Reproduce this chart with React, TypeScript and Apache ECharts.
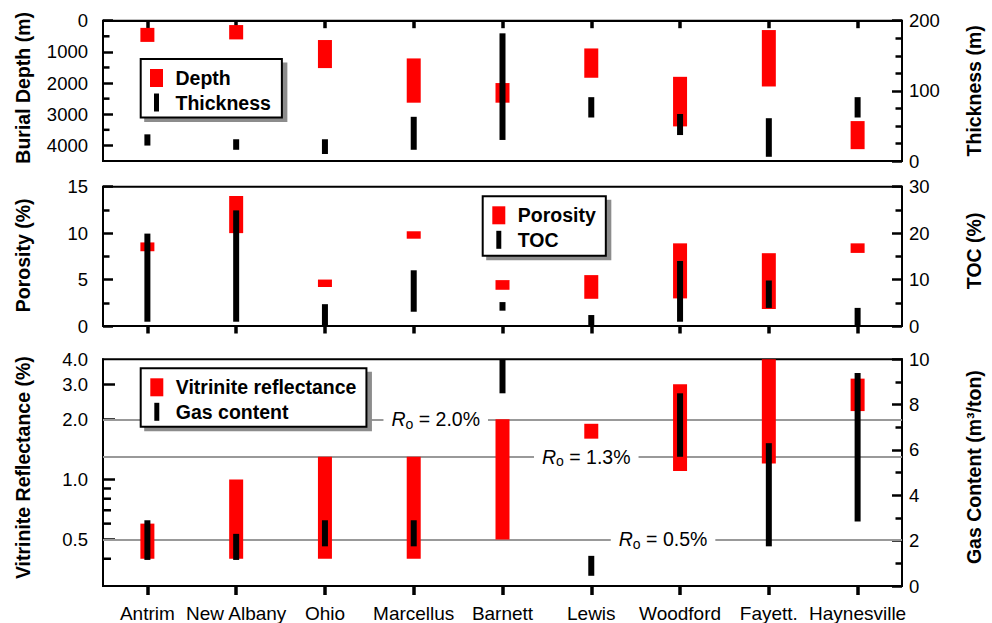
import React, { useEffect, useRef } from 'react';
import * as echarts from 'echarts';

const categories = ['Antrim', 'New Albany', 'Ohio', 'Marcellus', 'Barnett', 'Lewis', 'Woodford', 'Fayett.', 'Haynesville'];

// Burial depth (m), left axis of panel 1
const depthLow = [230, 140, 620, 1210, 2000, 890, 1800, 300, 3220];
const depthHigh = [680, 600, 1520, 2630, 2630, 1830, 3390, 2110, 4120];
// Thickness (m), right axis of panel 1
const thickLow = [22, 16, 10, 16, 30, 62, 37, 6, 62];
const thickHigh = [38, 31, 31, 63, 182, 91, 67, 61, 91];
// Porosity (%), left axis of panel 2
const porosityLow = [8.05, 10, 4.2, 9.4, 3.9, 2.93, 2.97, 1.83, 7.87];
const porosityHigh = [9.0, 14, 5.0, 10.2, 4.94, 5.48, 8.9, 7.84, 8.9];
// TOC (%), right axis of panel 2
const tocLow = [0.92, 0.92, 0, 3.07, 3.3, 0.2, 0.92, 3.9, 0.2];
const tocHigh = [19.9, 24.9, 4.7, 12.0, 5.15, 2.36, 14.0, 9.8, 3.9];
// Vitrinite reflectance (%), left (log) axis of panel 3
const roLow = [0.4, 0.4, 0.4, 0.4, 0.5, 1.6, 1.1, 1.2, 2.2];
const roHigh = [0.6, 1.0, 1.3, 1.3, 2.0, 1.9, 3.0, 4.0, 3.2];
// Gas content (m3/ton), right axis of panel 3
const gasLow = [1.15, 1.15, 1.75, 1.75, 8.5, 0.45, 5.7, 1.75, 2.85];
const gasHigh = [2.9, 2.3, 2.9, 2.9, 10, 1.33, 8.5, 6.3, 9.4];

// Tick values
const depthTicks = [0, 1000, 2000, 3000, 4000];
const depthMinorTicks = [500, 1500, 2500, 3500];
const roLabelTicks = [0.5, 1, 2, 3, 4];
const roMajorTicks = [0.5, 1, 2, 3];
const roMinorTicks = [0.4, 0.6, 0.7, 0.8, 0.9];
// Reference lines R_o
const roLines = [2.0, 1.3, 0.5];
const roLineAnchors = ['Marcellus', 'Lewis', 'Woodford'];

const FONT = '"Liberation Sans", Arial, Helvetica, sans-serif';
const BLACK = '#000';
const LEGEND_FONT_SIZE = 19.5;

function rangeSeries(name: string, xIdx: number, yIdx: number, lo: number[], hi: number[], color: string, width: number, z: number): any {
  return {
    type: 'custom',
    name,
    xAxisIndex: xIdx,
    yAxisIndex: yIdx,
    z,
    itemStyle: { color },
    encode: { x: 0, y: [1, 2] },
    data: categories.map((c, i) => [i, lo[i], hi[i]]),
    renderItem: (params: any, api: any) => {
      const a = api.coord([api.value(0), api.value(1)]);
      const b = api.coord([api.value(0), api.value(2)]);
      return {
        type: 'rect',
        shape: { x: a[0] - width / 2, y: Math.min(a[1], b[1]), width, height: Math.abs(b[1] - a[1]) },
        style: { fill: color },
      };
    },
  };
}

// Short inward tick marks on the left axis, placed through the axis scale
function minorTickSeries(xIdx: number, yIdx: number, values: number[], len: number): any {
  return {
    type: 'custom',
    xAxisIndex: xIdx,
    yAxisIndex: yIdx,
    silent: true,
    z: 4,
    clip: false,
    encode: { x: 0, y: 1 },
    data: values.map((v) => [0, v]),
    renderItem: (params: any, api: any) => {
      const y = api.coord([0, api.value(1)])[1];
      const x0 = params.coordSys.x;
      return {
        type: 'line',
        shape: { x1: x0, y1: y, x2: x0 + len, y2: y },
        style: { stroke: BLACK, lineWidth: 2.5 },
      };
    },
  };
}

const nameStyle = { fontSize: 19.5, fontWeight: 'bold', color: BLACK, fontFamily: FONT };
const labelStyle = { fontSize: 18.5, color: BLACK, fontFamily: FONT };
const lineStyleAxis = { color: BLACK, width: 2 };

function valueAxis(grid: number, pos: string, min: number, max: number, interval: number, minorSplit: number, name: string, nameGap: number, namePad: number, extra: any = {}): any {
  return {
    type: 'value',
    gridIndex: grid,
    position: pos,
    min,
    max,
    interval,
    name,
    nameLocation: 'middle',
    nameRotate: 90,
    nameGap,
    nameTextStyle: { ...nameStyle, padding: [0, 0, 0, namePad] },
    axisLine: { show: true, lineStyle: lineStyleAxis },
    axisTick: { show: true, inside: true, length: 10, lineStyle: { color: BLACK, width: 2.5 } },
    minorTick: { show: minorSplit > 0, splitNumber: minorSplit || 2, length: 6.5, lineStyle: { color: BLACK, width: 2.5 } },
    axisLabel: { ...labelStyle, margin: pos === 'left' ? 15 : 7, formatter: (v: number) => String(v) },
    splitLine: { show: false },
    ...extra,
  };
}

function measureWidth(names: string[]): number {
  try {
    const ctx = document.createElement('canvas').getContext('2d');
    if (ctx) {
      ctx.font = `bold ${LEGEND_FONT_SIZE}px ${FONT}`;
      return Math.max(...names.map((n) => ctx.measureText(n).width));
    }
  } catch (e) {
    /* ignore */
  }
  return Math.max(...names.map((n) => n.length * 10.5));
}

function legend(names: string[], icons: string[], left: number, top: number, padding: number[], shadow: boolean): any {
  const base: any = {
    orient: 'vertical',
    left: shadow ? left + 4.5 : left,
    top: shadow ? top + 4.5 : top,
    padding,
    itemWidth: 28,
    itemHeight: 18,
    itemGap: 4.5,
    selectedMode: false,
    symbolKeepAspect: true,
    z: shadow ? 3 : 4,
    backgroundColor: shadow ? '#8c8c8c' : '#fff',
    borderColor: shadow ? '#8c8c8c' : BLACK,
    borderWidth: 2,
    textStyle: { fontSize: LEGEND_FONT_SIZE, fontWeight: 'bold', color: BLACK, fontFamily: FONT },
    data: names.map((n, i) => ({ name: n, icon: icons[i] })),
  };
  if (shadow) {
    base.itemStyle = { opacity: 0 };
    base.formatter = () => '';
    base.textStyle = {
      ...base.textStyle,
      color: 'rgba(0,0,0,0)',
      width: measureWidth(names),
      height: LEGEND_FONT_SIZE,
      lineHeight: LEGEND_FONT_SIZE,
    };
  }
  return base;
}

const RED_ICON = 'path://M0,0h13v18h-13z';
const BLACK_ICON = 'path://M0,0h4.7v17h-4.7z';

function buildOption(): any {
  const grids = [
    { left: 103, right: 70, top: 20.7, height: 140.3 },
    { left: 103, right: 70, top: 186.7, height: 139.3 },
    { left: 103, right: 70, top: 359.3, height: 226.7 },
  ].map((g) => ({ ...g, show: true, borderColor: BLACK, borderWidth: 2, backgroundColor: 'transparent', containLabel: false }));

  const xAxes = [0, 1, 2].map((i) => ({
    type: 'category',
    gridIndex: i,
    data: categories,
    boundaryGap: true,
    axisLine: { show: true, lineStyle: lineStyleAxis },
    axisTick: { show: true, alignWithLabel: true, interval: 0, length: i === 2 ? 9 : 7.5, lineStyle: { color: BLACK, width: 3.5 } },
    axisLabel: { show: i === 2, interval: 0, fontSize: 19, color: BLACK, fontFamily: FONT, margin: 18 },
    splitLine: { show: false },
  }));

  const yAxes = [
    // 0: depth
    valueAxis(0, 'left', 0, 4500, 500, 0, 'Burial Depth (m)', 70, 6, {
      inverse: true,
      axisLabel: { ...labelStyle, margin: 15, customValues: depthTicks, formatter: (v: number) => String(v) },
      axisTick: { show: true, inside: true, length: 10, customValues: depthTicks, lineStyle: { color: BLACK, width: 2.5 } },
    }),
    // 1: thickness
    valueAxis(0, 'right', 0, 200, 100, 4, 'Thickness (m)', 62, 0),
    // 2: porosity
    valueAxis(1, 'left', 0, 15, 5, 2, 'Porosity (%)', 70, 2),
    // 3: TOC
    valueAxis(1, 'right', 0, 30, 10, 2, 'TOC (%)', 62, 11),
    // 4: vitrinite reflectance (log)
    {
      type: 'log', gridIndex: 2, position: 'left', min: 0.292, max: 4.0001, logBase: 10,
      name: 'Vitrinite Reflectance (%)', nameLocation: 'middle', nameRotate: 90, nameGap: 70,
      nameTextStyle: { ...nameStyle, padding: [0, 0, 0, 10] },
      axisLine: { show: true, lineStyle: lineStyleAxis },
      axisLabel: { ...labelStyle, margin: 15, customValues: roLabelTicks, formatter: (v: number) => Number(v).toFixed(1) },
      axisTick: { show: true, inside: true, length: 12, customValues: roMajorTicks, lineStyle: { color: BLACK, width: 2.5 } },
      minorTick: { show: false },
      splitLine: { show: false },
    },
    // 5: gas content
    valueAxis(2, 'right', 0, 10, 2, 2, 'Gas Content (m³/ton)', 62, 11),
  ];

  const roSeries = rangeSeries('Vitrinite reflectance', 2, 4, roLow, roHigh, '#ff0000', 14, 2);
  roSeries.markLine = {
    silent: true,
    z: 1,
    symbol: ['none', 'none'],
    label: { show: false },
    lineStyle: { color: '#999999', width: 2, type: 'solid' },
    data: roLines.map((v) => ({ yAxis: v })),
  };
  const roOffsets = [22, -5, -17];
  roSeries.markPoint = {
    silent: true,
    z: 10,
    symbol: 'rect',
    symbolSize: 1,
    itemStyle: { color: 'rgba(0,0,0,0)' },
    label: {
      show: true,
      position: 'inside',
      color: BLACK,
      backgroundColor: '#fff',
      padding: [1, 8],
      fontFamily: FONT,
      formatter: (p: any) => `{i|R}{s|o}{n| = ${Number(p.value).toFixed(1)}%}`,
      rich: {
        i: { fontSize: 19.5, fontStyle: 'italic', color: BLACK, fontFamily: FONT, lineHeight: 20 },
        s: { fontSize: 14, color: BLACK, fontFamily: FONT, lineHeight: 20, padding: [9, 0, 0, 0] },
        n: { fontSize: 19.5, color: BLACK, fontFamily: FONT, lineHeight: 20 },
      },
    },
    data: roLines.map((v, i) => ({ coord: [roLineAnchors[i], v], value: v, label: { offset: [roOffsets[i], 0] } })),
  };

  const legendSpecs: [string[], number, number, number[]][] = [
    [['Depth', 'Thickness'], 140.7, 59, [9, 11, 5, 9.3]],
    [['Porosity', 'TOC'], 482.7, 196.3, [9, 10, 6, 9.6]],
    [['Vitrinite reflectance', 'Gas content'], 140.7, 368.3, [9, 10, 5, 9.6]],
  ];
  const legends: any[] = [];
  legendSpecs.forEach(([names, l, t, p]) => {
    legends.push(legend(names, [RED_ICON, BLACK_ICON], l, t, p, true));
    legends.push(legend(names, [RED_ICON, BLACK_ICON], l, t, p, false));
  });

  return {
    animation: false,
    backgroundColor: '#fff',
    textStyle: { fontFamily: FONT },
    grid: grids,
    xAxis: xAxes,
    yAxis: yAxes,
    legend: legends,
    series: [
      rangeSeries('Depth', 0, 0, depthLow, depthHigh, '#ff0000', 14, 2),
      rangeSeries('Thickness', 0, 1, thickLow, thickHigh, '#000000', 6, 3),
      rangeSeries('Porosity', 1, 2, porosityLow, porosityHigh, '#ff0000', 14, 2),
      rangeSeries('TOC', 1, 3, tocLow, tocHigh, '#000000', 6, 3),
      roSeries,
      rangeSeries('Gas content', 2, 5, gasLow, gasHigh, '#000000', 6, 3),
      minorTickSeries(0, 0, depthMinorTicks, 6.5),
      minorTickSeries(2, 4, roMinorTicks, 8),
    ],
  };
}

export default function App() {
  const ref = useRef<HTMLDivElement>(null);
  useEffect(() => {
    if (!ref.current) return;
    const chart = echarts.init(ref.current, null, { renderer: 'svg' });
    chart.setOption(buildOption());
    return () => chart.dispose();
  }, []);
  return <div ref={ref} style={{ position: 'fixed', left: 0, top: 0, width: 992, height: 623, background: '#fff' }} />;
}
